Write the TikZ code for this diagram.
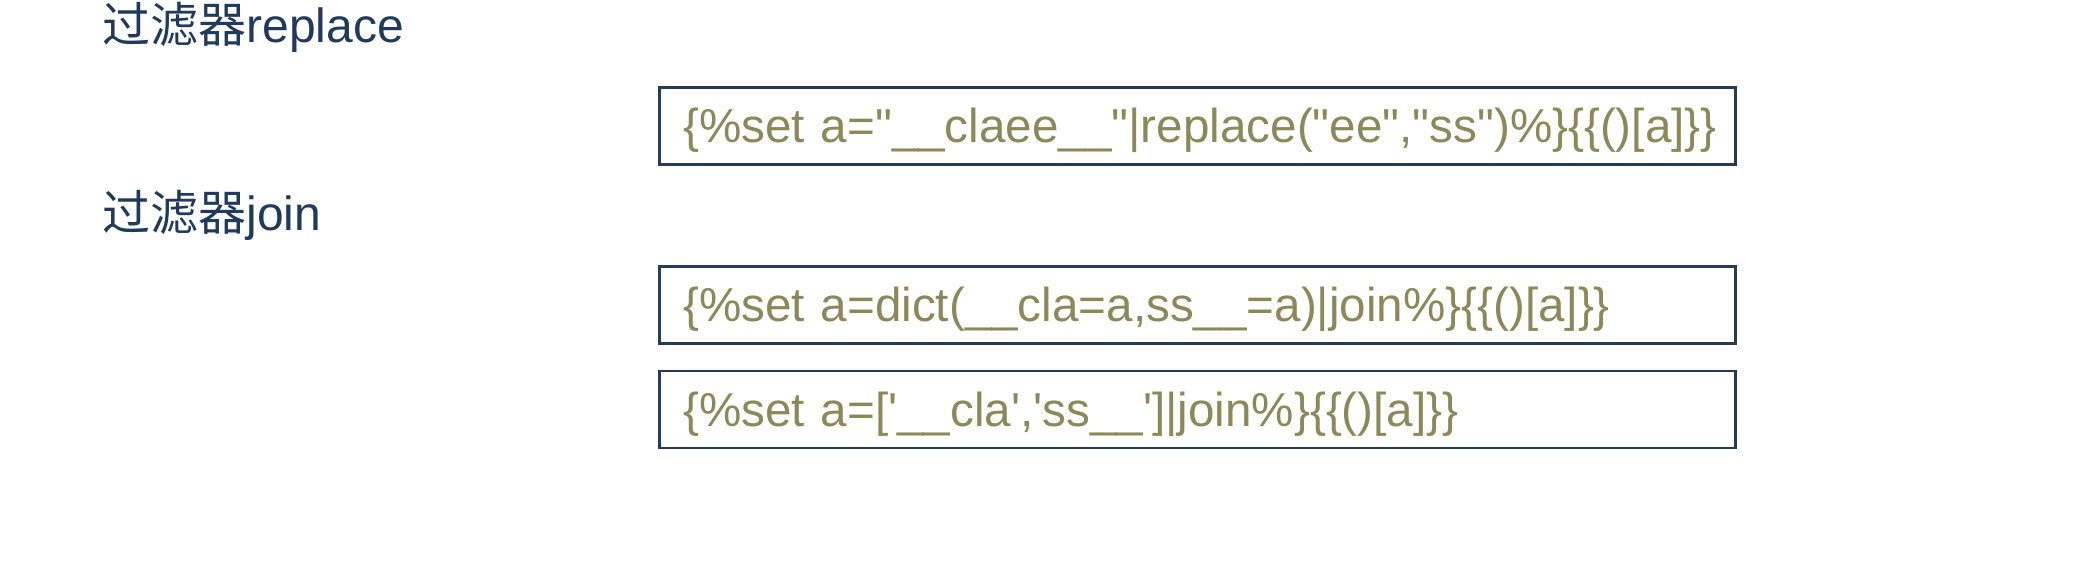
\documentclass[tikz,border=0pt]{standalone}
\usepackage{fontspec}
\setmainfont{Liberation Sans}
\newfontfamily\cjk{Noto Sans CJK SC}
\newfontfamily\codefont{Liberation Sans}
\usetikzlibrary{positioning}

\definecolor{titleblue}{HTML}{1F3A5C}
\definecolor{boxline}{HTML}{263B58}
\definecolor{codeolive}{HTML}{8C8858}

\tikzset{
	title/.style={anchor=base west, inner sep=0pt, text=titleblue,
		font=\fontsize{24pt}{28pt}\selectfont},
	codebox/.style={draw=boxline, line width=1.3pt, anchor=north west,
		minimum height=38.5pt, inner xsep=12pt, text width=514pt, align=left,
		text height=22pt, text depth=5pt,
		text=codeolive, font=\codefont\fontsize{23.8pt}{28pt}\selectfont}
}

\begin{document}
\begin{tikzpicture}
		\useasboundingbox (0,0) rectangle (1042.5pt,-283.5pt);

		\node[title] (replacetitle) at (51pt,-21.5pt) {{\cjk 过滤器}replace};
		\node[codebox] (replacebox) at (329pt,-43pt)
			{\{\%set a="\_\_claee\_\_"|replace("ee","ss")\%\}\{\{()[a]\}\}};

		\node[title] (jointitle) at (51pt,-115pt) {{\cjk 过滤器}join};
		\node[codebox] (dictbox) at (329pt,-132.5pt)
			{\{\%set a=dict(\_\_cla=a,ss\_\_=a)|join\%\}\{\{()[a]\}\}};
		\node[codebox, below=12.5pt of dictbox.south west, anchor=north west] (listbox)
			{\{\%set a=['\_\_cla','ss\_\_']|join\%\}\{\{()[a]\}\}};

		%\node[codebox] (listbox) at (329pt,-184.5pt) {...};
	\end{tikzpicture}
\end{document}
